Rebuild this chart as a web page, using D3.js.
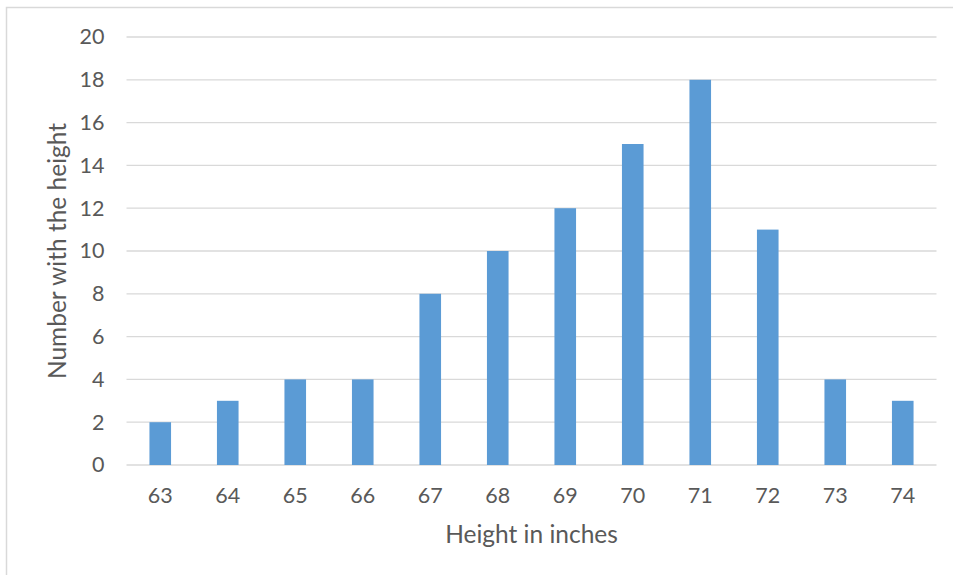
<!DOCTYPE html>
<html>
<head>
<meta charset="utf-8">
<script src="https://cdn.jsdelivr.net/npm/d3@7"></script>
<style>
  html, body { margin: 0; padding: 0; background: #fff; }
  svg { display: block; }
  text { font-family: Lato, "Open Sans", sans-serif; fill: #595959; }
</style>
</head>
<body>
<svg id="chart" width="953" height="575"></svg>
<script>
// Heights (inches) and how many people have each height
const heights = ["63", "64", "65", "66", "67", "68", "69", "70", "71", "72", "73", "74"];
const counts = [2, 3, 4, 4, 8, 10, 12, 15, 18, 11, 4, 3];
const yTicks = [0, 2, 4, 6, 8, 10, 12, 14, 16, 18, 20];

const svg = d3.select("#chart");
const W = 953, H = 575;
const plot = { left: 126.5, right: 936.5, top: 37, bottom: 465 };

// Chart frame
svg.append("rect")
  .attr("x", 6.5).attr("y", 7.5)
  .attr("width", W + 10).attr("height", H + 10)
  .attr("fill", "#fff")
  .attr("stroke", "#d9d9d9").attr("stroke-width", 1.5);

const x = d3.scaleBand()
  .domain(heights)
  .range([plot.left, plot.right])
  .paddingInner(0.68)
  .paddingOuter(0.34);

const y = d3.scaleLinear()
  .domain([0, 20])
  .range([plot.bottom, plot.top]);

// Horizontal gridlines
svg.append("g")
  .selectAll("line")
  .data(yTicks)
  .join("line")
  .attr("x1", plot.left).attr("x2", plot.right)
  .attr("y1", d => y(d)).attr("y2", d => y(d))
  .attr("stroke", "#d9d9d9").attr("stroke-width", 1.3);

// Y axis labels
const yAxis = d3.axisLeft(y).tickValues(yTicks).tickSize(0).tickPadding(22);
const gy = svg.append("g").attr("transform", `translate(${plot.left},0)`).call(yAxis);
gy.select(".domain").remove();
gy.selectAll("text").attr("font-size", 21.5).style("font-family", "Lato, sans-serif").attr("fill", "#595959");

// Bars
svg.append("g")
  .selectAll("rect")
  .data(counts)
  .join("rect")
  .attr("x", (d, i) => x(heights[i]))
  .attr("y", d => y(d))
  .attr("width", x.bandwidth())
  .attr("height", d => y(0) - y(d))
  .attr("fill", "#5b9bd5");

// X axis labels
const xAxis = d3.axisBottom(x).tickSize(0).tickPadding(23);
const gx = svg.append("g").attr("transform", `translate(0,${plot.bottom})`).call(xAxis);
gx.select(".domain").remove();
gx.selectAll("text").attr("font-size", 21.5).style("font-family", "Lato, sans-serif").attr("fill", "#595959");

// Axis titles
svg.append("text")
  .attr("x", (plot.left + plot.right) / 2)
  .attr("y", 543)
  .attr("text-anchor", "middle")
  .attr("font-size", 24.5)
  .text("Height in inches");

svg.append("text")
  .attr("transform", `translate(66,${(plot.top + plot.bottom) / 2}) rotate(-90)`)
  .attr("text-anchor", "middle")
  .attr("font-size", 24.5)
  .text("Number with the height");
</script>
</body>
</html>
